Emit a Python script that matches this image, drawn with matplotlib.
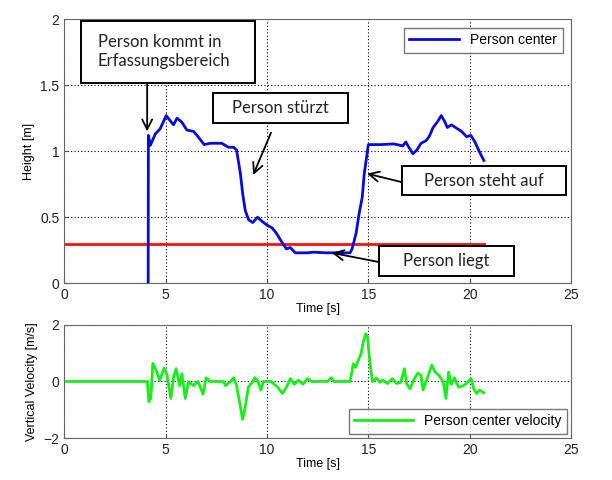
import numpy as np
import matplotlib
matplotlib.use("Agg")
import matplotlib.pyplot as plt
from matplotlib.patches import Rectangle

# --- data ---
t_height = [4.14, 4.15, 4.25, 4.49, 4.73, 5.03, 5.23, 5.39, 5.56, 5.8, 6.05, 6.38,
            6.6, 6.9, 7.2, 7.77, 8.1, 8.35, 8.5, 8.69, 8.8, 8.93, 9.1, 9.3, 9.54,
            9.75, 10.0, 10.25, 10.46, 10.74, 10.96, 11.15, 11.4, 11.98, 12.3,
            12.96, 13.6, 14.1, 14.2, 14.4, 14.55, 14.7, 14.8, 14.94, 15.0, 15.6,
            16.27, 16.7, 16.85, 17.0, 17.2, 17.4, 17.6, 17.85, 18.0, 18.2, 18.4,
            18.6, 18.75, 18.9, 19.1, 19.4, 19.6, 19.85, 20.06, 20.26, 20.5, 20.7]
height = [0.0, 1.12, 1.045, 1.13, 1.17, 1.27, 1.23, 1.2, 1.25, 1.22, 1.16, 1.15,
          1.11, 1.05, 1.06, 1.06, 1.03, 1.03, 1.01, 0.83, 0.68, 0.55, 0.48, 0.46,
          0.5, 0.47, 0.44, 0.42, 0.38, 0.31, 0.26, 0.27, 0.23, 0.23, 0.235,
          0.23, 0.23, 0.23, 0.26, 0.38, 0.53, 0.65, 0.83, 0.98, 1.05, 1.05,
          1.055, 1.04, 1.07, 1.03, 0.98, 1.01, 1.06, 1.08, 1.11, 1.18, 1.22,
          1.27, 1.23, 1.18, 1.2, 1.17, 1.15, 1.11, 1.12, 1.07, 0.99, 0.93]

threshold = 0.3
t_threshold = [0.0, 20.7]

t_vel = [0.0, 4.1, 4.17, 4.27, 4.37, 4.57, 4.7, 4.93, 5.06, 5.26, 5.39, 5.52,
         5.69, 5.8, 5.97, 6.13, 6.38, 6.6, 6.85, 7.0, 7.2, 7.86, 7.95, 8.2,
         8.36, 8.5, 8.69, 8.8, 8.93, 9.08, 9.3, 9.4, 9.56, 9.7, 9.83, 10.2,
         10.5, 10.77, 11.0, 11.15, 11.35, 11.55, 11.77, 12.0, 12.2, 13.0,
         13.17, 13.3, 14.1, 14.26, 14.37, 14.47, 14.64, 14.75, 14.87, 14.96,
         15.07, 15.2, 15.4, 15.57, 15.7, 15.95, 16.18, 16.4, 16.6, 16.78,
         16.9, 17.06, 17.22, 17.44, 17.6, 17.7, 17.9, 18.13, 18.3, 18.5,
         18.7, 18.83, 18.96, 19.1, 19.25, 19.45, 19.7, 19.9, 20.07, 20.2,
         20.35, 20.5, 20.7]
velocity = [0.0, 0.0, -0.71, -0.6, 0.64, 0.33, 0.03, 0.47, 0.27, -0.6, 0.15,
            0.45, -0.15, 0.27, -0.6, 0.0, -0.15, 0.0, -0.45, 0.13, 0.0, 0.0,
            -0.15, 0.0, 0.13, -0.15, -0.9, -1.34, -0.9, -0.2, 0.0, 0.13, 0.0,
            -0.3, 0.0, 0.0, -0.18, -0.42, -0.15, 0.1, -0.1, 0.05, -0.1, 0.1,
            0.0, 0.0, 0.13, 0.0, 0.0, 0.63, 0.5, 0.69, 0.98, 1.39, 1.69, 1.57,
            0.75, 0.0, 0.12, -0.03, 0.05, -0.07, 0.1, -0.07, -0.03, 0.45,
            -0.1, -0.26, 0.03, 0.3, 0.21, -0.3, 0.1, 0.58, 0.33, 0.21, -0.03,
            -0.6, 0.33, -0.1, 0.13, -0.2, -0.15, -0.03, 0.1, -0.26, -0.42,
            -0.3, -0.4]

ticks_x = [0, 5, 10, 15, 20, 25]

# annotations: text, box (x0, x1, y0, y1) in data units, arrow tail, arrow head
notes = [
    ("Person kommt in\nErfassungsbereich", (0.84, 9.42, 1.52, 1.99), (4.09, 1.52), (4.09, 1.15)),
    ("Person stürzt", (7.35, 14.0, 1.21, 1.44), (10.2, 1.14), (9.32, 0.82)),
    ("Person steht auf", (16.67, 24.75, 0.667, 0.886), (16.67, 0.765), (14.94, 0.83)),
    ("Person liegt", (15.53, 22.19, 0.053, 0.28), (15.53, 0.16), (13.2, 0.23)),
]

plt.rcParams["font.family"] = ["Liberation Sans", "DejaVu Sans"]

fig = plt.figure(figsize=(6.12, 4.8), dpi=100)
ax1 = fig.add_axes([0.105, 0.410, 0.828, 0.550])
ax2 = fig.add_axes([0.105, 0.0875, 0.828, 0.2355])

for ax in (ax1, ax2):
    ax.set_xlim(0, 25)
    ax.set_xticks(ticks_x)
    ax.grid(True, color="black", linestyle=(0, (1, 2)), linewidth=0.8)
    ax.tick_params(labelsize=10, color="#555555", labelcolor="#222222",
                   direction="in", length=3)
    for s in ax.spines.values():
        s.set_color("#666666")

# --- top: height ---
ax1.plot(t_height, height, color="#0a0ad8", lw=2, label="Person center", zorder=3)
ax1.plot(t_threshold, [threshold, threshold], color="#ff1010", lw=2, zorder=2)
ax1.set_ylim(0, 2)
ax1.set_yticks([0, 0.5, 1, 1.5, 2])
ax1.set_yticklabels(["0", "0.5", "1", "1.5", "2"])
ax1.set_xlabel("Time [s]", fontsize=9, labelpad=1)
ax1.set_ylabel("Height [m]", fontsize=9)
leg = ax1.legend(loc="upper right", fontsize=10, fancybox=False,
                 handlelength=3.6, borderaxespad=0.6)
leg.get_frame().set_edgecolor("#555555")

for i, (text, (x0, x1, y0, y1), tail, head) in enumerate(notes):
    ax1.add_patch(Rectangle((x0, y0), x1 - x0, y1 - y0, fc="white", ec="black",
                            lw=1.4, zorder=5, clip_on=False))
    if i == 0:
        tx, ha = x0 + 0.8, "left"
    else:
        tx, ha = (x0 + x1) / 2, "center"
    ax1.text(tx, (y0 + y1) / 2, text, ha=ha, va="center", fontsize=12,
             family=["Lato", "DejaVu Sans"], color="#222222", linespacing=1.3,
             zorder=6)
    ax1.annotate("", xy=head, xytext=tail,
                 arrowprops=dict(arrowstyle="->", color="black", lw=1.3,
                                 mutation_scale=18, shrinkA=0, shrinkB=0),
                 zorder=4)

# --- bottom: velocity ---
ax2.plot(t_vel, velocity, color="#18ee18", lw=2, label="Person center velocity")
ax2.set_ylim(-2, 2)
ax2.set_yticks([-2, 0, 2])
ax2.set_xlabel("Time [s]", fontsize=9, labelpad=1)
ax2.set_ylabel("Vertical Velocity [m/s]", fontsize=9)
leg2 = ax2.legend(loc="lower right", fontsize=10, fancybox=False,
                  handlelength=4.2, borderaxespad=0.3)
leg2.get_frame().set_edgecolor("#555555")

fig.savefig("out.png", dpi=100)
